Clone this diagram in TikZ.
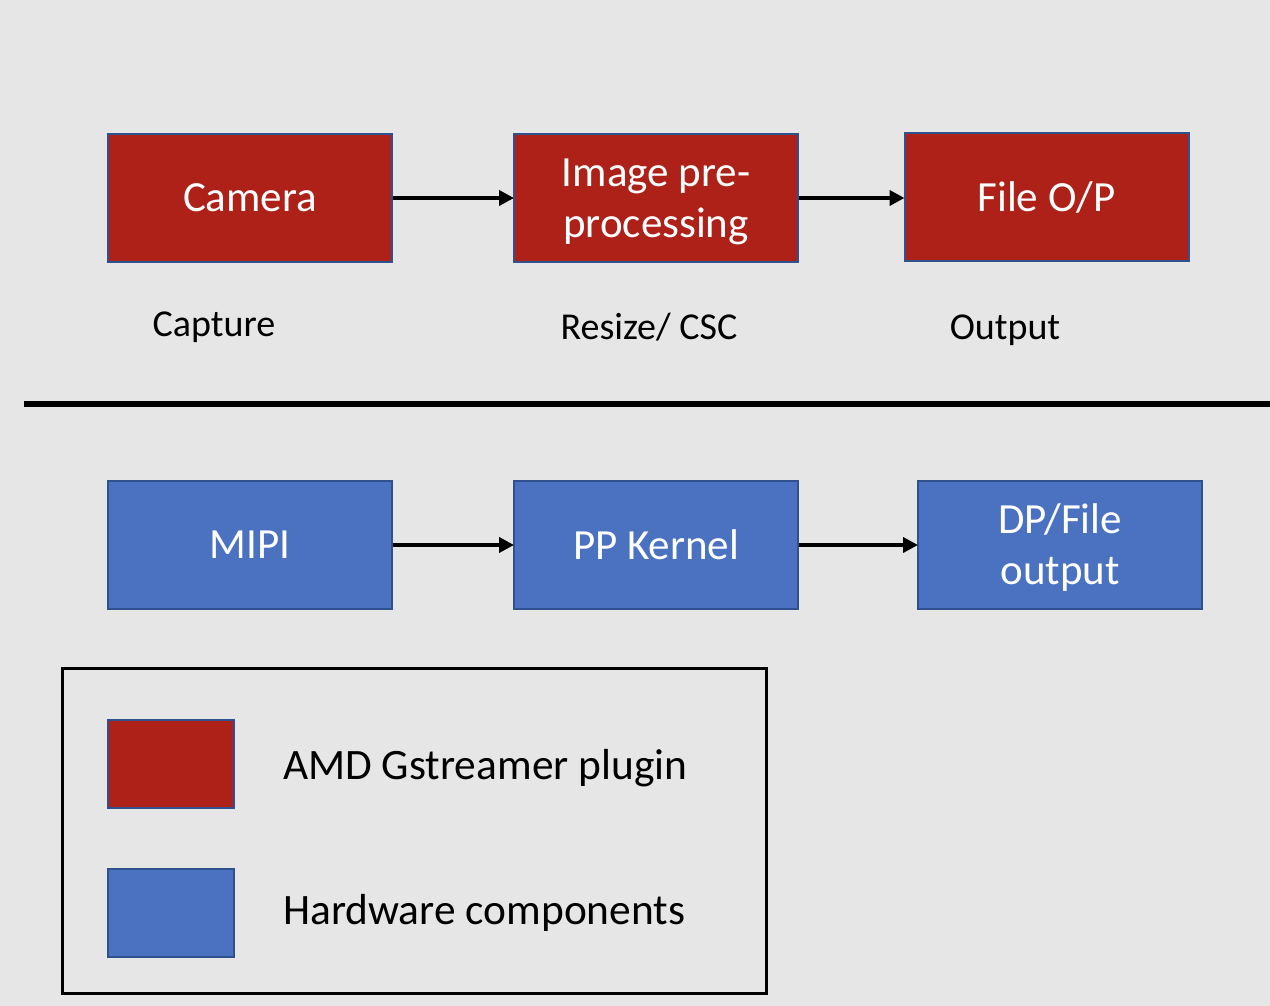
\documentclass[tikz,border=0pt]{standalone}
\usepackage{fontspec}
\setmainfont{Carlito}
\usetikzlibrary{arrows.meta}
\definecolor{bg}{HTML}{E6E6E6}
\definecolor{pred}{HTML}{AE2118}
\definecolor{pblue}{HTML}{4A72C0}
\definecolor{pedge}{HTML}{2F528F}
\newcommand{\twolines}[2]{\raisebox{-4pt}[\height][\depth]{\begin{tabular}{@{}c@{}}#1\\#2\end{tabular}}}
\tikzset{
  blk/.style={draw=pedge, line width=2pt, minimum width=284pt, minimum height=128pt, text=white, align=center, font=\fontsize{43}{51}\selectfont, inner sep=0pt},
  redblk/.style={blk, fill=pred},
  blueblk/.style={blk, fill=pblue},
  lbl/.style={font=\fontsize{38}{44}\selectfont, text=black},
  legtxt/.style={font=\fontsize{43.4}{50}\selectfont, text=black, anchor=west, inner sep=0pt},
  swatch/.style={draw=pedge, line width=2pt, minimum width=126pt, minimum height=88pt, inner sep=0pt},
  conn/.style={line width=4.5pt, -{Triangle[length=15pt,width=15pt]}, shorten >=-1pt}
}
\begin{document}
\begin{tikzpicture}[x=1pt,y=-1pt]
\fill[bg] (0,0) rectangle (1270,1006);
\useasboundingbox (0,0) rectangle (1270,1006);
\node[redblk] (cam) at (250,198) {Camera};
\node[redblk] (img) at (656,198) {\twolines{Image pre-}{processing}};
\node[redblk] (file) at (1046.5,197) {File O/P};
\node[blueblk] (mipi) at (250,545) {MIPI};
\node[blueblk] (pp) at (656,545) {PP Kernel};
\node[blueblk] (dp) at (1060,545) {\twolines{DP/File}{output}};
\draw[conn] (cam) -- (img);
\draw[conn] (img.east) -- (file.west|-img.east);
\draw[conn] (mipi) -- (pp);
\draw[conn] (pp) -- (dp);
\node[lbl] (cap) at (214,327) {Capture};
\node[lbl] (res) at (649,327) {Resize/ CSC};
\node[lbl] (out) at (1005,330) {Output};
\coordinate (sepL) at (24,404);
\coordinate (sepR) at (1270,404);
\draw[line width=6.5pt] (sepL) -- (sepR);
\node[draw=black, line width=3pt, minimum width=704pt, minimum height=325pt, inner sep=0pt] (leg) at (414,830.5) {};
\node[swatch, fill=pred] (sw1) at (171,764) {};
\node[swatch, fill=pblue] (sw2) at (171,913) {};
\node[legtxt] (t1) at (283,768) {AMD Gstreamer plugin};
\node[legtxt] (t2) at (283,913) {Hardware components};
\end{tikzpicture}
\end{document}
